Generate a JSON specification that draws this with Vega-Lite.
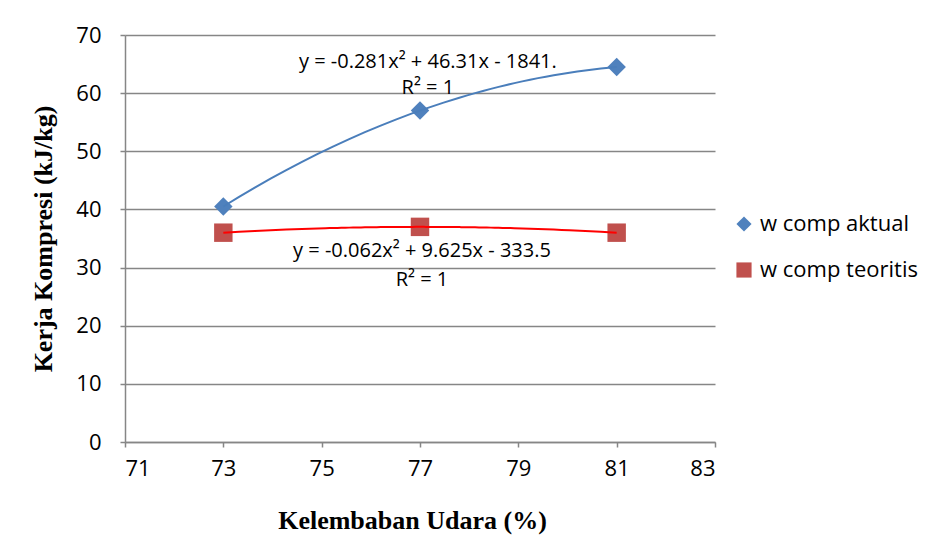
{
  "$schema": "https://vega.github.io/schema/vega-lite/v6.json",
  "width": 590,
  "height": 407,
  "autosize": {"type": "none"},
  "padding": {"left": 125, "top": 35, "right": 212, "bottom": 98},
  "background": "white",
  "config": {
    "view": {"stroke": null},
    "font": "Open Sans",
    "axis": {
      "domainColor": "#868686",
      "domainWidth": 1.5,
      "tickColor": "#868686",
      "tickWidth": 1.5,
      "tickSize": 5,
      "gridColor": "#868686",
      "gridWidth": 1.5,
      "labelFont": "Open Sans",
      "labelFontSize": 22,
      "labelColor": "#000000",
      "titleFont": "Liberation Serif",
      "titleFontSize": 26,
      "titleFontWeight": "bold",
      "titleColor": "#000000"
    }
  },
  "data": {
    "values": [
      {"x": 73, "y": 40.5, "series": "w comp aktual"},
      {"x": 77, "y": 57.0, "series": "w comp aktual"},
      {"x": 81, "y": 64.5, "series": "w comp aktual"},
      {"x": 73, "y": 36.0, "series": "w comp teoritis"},
      {"x": 77, "y": 37.0, "series": "w comp teoritis"},
      {"x": 81, "y": 36.0, "series": "w comp teoritis"}
    ]
  },
  "encoding": {
    "x": {
      "field": "x",
      "type": "quantitative",
      "scale": {"domain": [71, 83], "nice": false, "zero": false},
      "axis": {
        "values": [71, 73, 75, 77, 79, 81, 83],
        "grid": false,
        "labelPadding": 11,
        "title": "Kelembaban Udara (%)",
        "titlePadding": 28,
        "titleX": 287
      }
    },
    "y": {
      "field": "y",
      "type": "quantitative",
      "scale": {"domain": [0, 70], "nice": false},
      "axis": {
        "values": [0, 10, 20, 30, 40, 50, 60, 70],
        "grid": true,
        "labelPadding": 19,
        "title": "Kerja Kompresi (kJ/kg)",
        "titlePadding": 19
      }
    }
  },
  "layer": [
    {
      "mark": {"type": "point", "filled": true, "opacity": 1, "size": 340},
      "encoding": {
        "color": {
          "field": "series",
          "type": "nominal",
          "scale": {"domain": ["w comp aktual", "w comp teoritis"], "range": ["#4F81BD", "#C0504D"]},
          "legend": {
            "title": null,
            "orient": "none",
            "legendX": 608,
            "legendY": 178,
            "labelFont": "Open Sans",
            "labelFontSize": 22,
            "labelColor": "#000000",
            "symbolSize": 230,
            "symbolOpacity": 1,
            "rowPadding": 24,
            "labelOffset": 5
          }
        },
        "shape": {
          "field": "series",
          "type": "nominal",
          "scale": {"domain": ["w comp aktual", "w comp teoritis"], "range": ["diamond", "square"]},
          "legend": null
        }
      }
    },
    {
      "transform": [
        {"filter": "datum.series === 'w comp aktual'"},
        {"regression": "y", "on": "x", "method": "poly", "order": 2, "extent": [73, 81]}
      ],
      "mark": {"type": "line", "color": "#4A7EBB", "strokeWidth": 2},
      "encoding": {}
    },
    {
      "transform": [
        {"filter": "datum.series === 'w comp teoritis'"},
        {"regression": "y", "on": "x", "method": "poly", "order": 2, "extent": [73, 81]}
      ],
      "mark": {"type": "line", "color": "#FF0000", "strokeWidth": 2},
      "encoding": {}
    },
    {
      "data": {
        "values": [
          {"tx": 77.16, "ty": 65.4, "label": "y = -0.281x² + 46.31x - 1841."},
          {"tx": 77.16, "ty": 60.9, "label": "R² = 1"},
          {"tx": 77.04, "ty": 32.8, "label": "y = -0.062x² + 9.625x - 333.5"},
          {"tx": 77.04, "ty": 27.9, "label": "R² = 1"}
        ]
      },
      "mark": {"type": "text", "font": "Open Sans", "fontSize": 20, "color": "#000000", "align": "center", "baseline": "middle"},
      "encoding": {
        "x": {"field": "tx", "type": "quantitative"},
        "y": {"field": "ty", "type": "quantitative"},
        "text": {"field": "label"}
      }
    }
  ]
}
